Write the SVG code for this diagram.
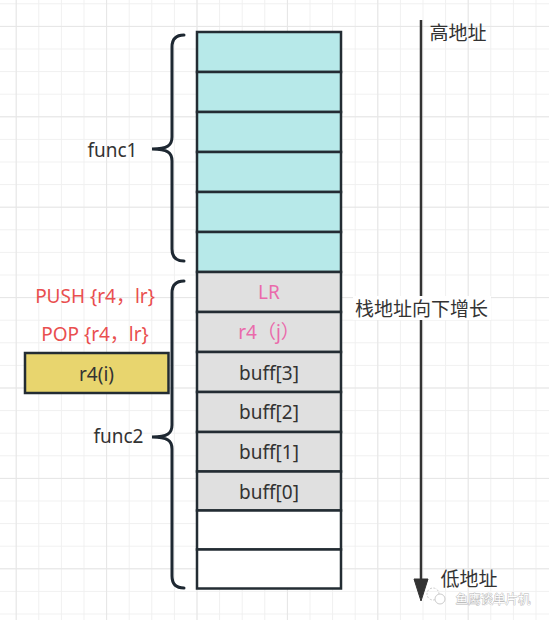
<svg xmlns="http://www.w3.org/2000/svg" width="549" height="620" viewBox="0 0 549 620">
<style>
.t{font-family:"Noto Sans","Noto Sans CJK SC",sans-serif;font-size:19px;fill:#333333;text-anchor:middle}
.cj{font-family:"Noto Sans CJK SC","Noto Sans",sans-serif;font-size:19px;fill:#333333;text-anchor:middle}
.red{fill:#e94f4f}
.pink{fill:#ea6aab}
.cell{stroke:#232c33;stroke-width:2.5}
.cy{fill:#b7e9e9}
.gr{fill:#e0e0e0}
.wh{fill:#ffffff}
.brace{fill:none;stroke:#1e2832;stroke-width:3;stroke-linecap:round}
</style>
<defs>
<pattern id="minor" patternUnits="userSpaceOnUse" x="15.7" y="3.3" width="22.6" height="22.6">
<path d="M0,0 H22.6 M0,0 V22.6" fill="none" stroke="#f0f0f0" stroke-width="2"/>
</pattern>
<pattern id="major" patternUnits="userSpaceOnUse" x="15.7" y="25.9" width="90.4" height="90.4">
<path d="M0,0 H90.4 M0,0 V90.4" fill="none" stroke="#e6e6e6" stroke-width="2"/>
</pattern>
</defs>
<rect width="549" height="620" fill="#ffffff"/>
<rect width="549" height="620" fill="url(#minor)"/>
<rect width="549" height="620" fill="url(#major)"/>

<g id="stack">
<g id="f1r0"><rect class="cell cy" x="197" y="32" width="144" height="40"/></g>
<g id="f1r1"><rect class="cell cy" x="197" y="72" width="144" height="40"/></g>
<g id="f1r2"><rect class="cell cy" x="197" y="112" width="144" height="40"/></g>
<g id="f1r3"><rect class="cell cy" x="197" y="152" width="144" height="40"/></g>
<g id="f1r4"><rect class="cell cy" x="197" y="192" width="144" height="40"/></g>
<g id="f1r5"><rect class="cell cy" x="197" y="232" width="144" height="40"/></g>
<g id="lr"><rect class="cell gr" x="197" y="272" width="144" height="40"/><text class="t pink" x="269" y="299">LR</text></g>
<g id="r4j"><rect class="cell gr" x="197" y="312" width="144" height="40"/><text class="t pink" x="269" y="339">r4（j）</text></g>
<g id="buff3"><rect class="cell gr" x="197" y="352" width="144" height="40"/><text class="t" x="269" y="380">buff[3]</text></g>
<g id="buff2"><rect class="cell gr" x="197" y="392" width="144" height="40"/><text class="t" x="269" y="419">buff[2]</text></g>
<g id="buff1"><rect class="cell gr" x="197" y="432" width="144" height="39.5"/><text class="t" x="269" y="459">buff[1]</text></g>
<g id="buff0"><rect class="cell gr" x="197" y="471.5" width="144" height="39"/><text class="t" x="269" y="498.5">buff[0]</text></g>
<g id="e1"><rect class="cell wh" x="197" y="510.5" width="144" height="39"/></g>
<g id="e2"><rect class="cell wh" x="197" y="549.5" width="144" height="39"/></g>
</g>

<g id="r4i"><rect x="25" y="353" width="143.5" height="40" fill="#e8d56e" stroke="#232c33" stroke-width="2.5"/><text class="t" x="96.5" y="381">r4(i)</text></g>

<g id="func1"><path class="brace" d="M184,35 C176,35 172,39 172,47 V137 C172,145 168,149 152,149 C168,149 172,153 172,161 V249 C172,257 176,261 184,261"/><text class="t" x="112.5" y="157">func1</text></g>
<g id="func2"><path class="brace" d="M184,281 C176,281 172,285 172,293 V425 C172,433 168,437 152,437 C168,437 172,441 172,449 V576 C172,584 176,588 184,588"/><text class="t" x="118.5" y="443">func2</text></g>

<g id="push"><text class="t red" x="95" y="303">PUSH {r4，lr}</text></g>
<g id="pop"><text class="t red" x="95" y="341">POP {r4，lr}</text></g>

<g id="connectors">
<line x1="421" y1="20" x2="421" y2="582" stroke="#333333" stroke-width="2.5"/>
<path d="M414,579 L421,601 L428,579 Z" fill="#333333" stroke="#333333" stroke-width="1"/>
</g>

<g id="high"><text class="cj" x="458" y="40">高地址</text></g>
<g id="grow"><rect x="353" y="296" width="138" height="24" fill="#ffffff"/><text class="cj" x="421.5" y="316">栈地址向下增长</text></g>
<g id="low"><text class="cj" x="469" y="586">低地址</text></g>

<g id="watermark" opacity="0.75">
<circle cx="433" cy="594" r="6" fill="none" stroke="#bbbbbb" stroke-width="1" stroke-dasharray="2 1.5"/>
<circle cx="440" cy="599" r="5" fill="#ffffff" stroke="#bbbbbb" stroke-width="1"/>
<text x="493" y="604" font-family="Noto Sans CJK SC,sans-serif" font-size="12.5px" text-anchor="middle" fill="#ffffff" stroke="#999999" stroke-width="0.8" paint-order="stroke">鱼鹰谈单片机</text>
</g>
</svg>
